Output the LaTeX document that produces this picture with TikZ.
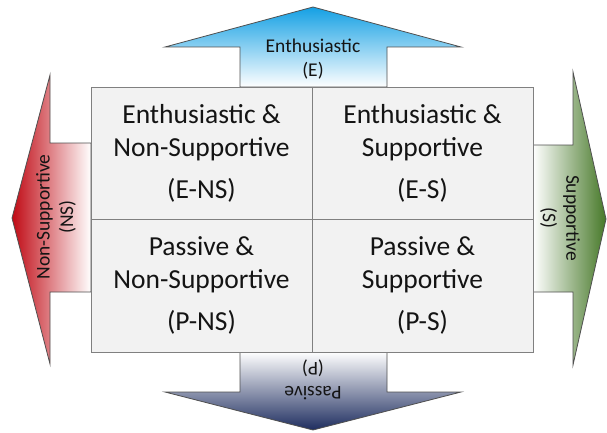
\documentclass[tikz,border=0pt]{standalone}
\usepackage{fontspec}
\setmainfont{Carlito}
\usetikzlibrary{positioning}

\definecolor{cellGray}{RGB}{242,242,242}
\definecolor{edgeGray}{RGB}{128,128,128}
\definecolor{outlineGray}{RGB}{80,80,80}
\definecolor{textDark}{RGB}{20,20,20}
\definecolor{arrowBlue}{RGB}{20,160,228}
\definecolor{arrowRed}{RGB}{192,10,20}
\definecolor{arrowGreen}{RGB}{70,120,40}
\definecolor{arrowNavy}{RGB}{30,45,95}

\tikzset{
    cell/.style = {draw=edgeGray, fill=cellGray, line width=0.9pt,
        minimum width=221pt, minimum height=132.5pt, inner sep=0pt, outer sep=0pt,
        align=center, text=textDark, font=\fontsize{27.5}{33}\selectfont},
    axisArrow/.style = {draw=outlineGray, line width=0.8pt},
    axisLabel/.style = {align=center, text=textDark, inner sep=0pt,
        font=\fontsize{19.5}{23.5}\selectfont},
}

\begin{document}
\begin{tikzpicture}[x=1pt, y=-1pt]
    \useasboundingbox (0,0) rectangle (607,433);

    % Enthusiastic (top)
    \shade [axisArrow, top color=arrowBlue, bottom color=white]
        (240,87) -- (240,47) -- (165,47) -- (313,7) -- (461,47) -- (387,47) -- (387,87) -- cycle;
    % Passive (bottom)
    \shade [axisArrow, bottom color=arrowNavy, top color=white]
        (240,352) -- (240,392) -- (165,392) -- (313,430) -- (461,392) -- (387,392) -- (387,352) -- cycle;
    % Non-Supportive (left)
    \shade [axisArrow, left color=arrowRed, right color=white]
        (91,143) -- (50,143) -- (50,75) -- (12,218) -- (50,364) -- (50,292) -- (91,292) -- cycle;
    % Supportive (right)
    \shade [axisArrow, right color=arrowGreen, left color=white]
        (533,145) -- (573,145) -- (573,72) -- (606,219) -- (573,365) -- (573,292) -- (533,292) -- cycle;

    % Quadrants
    \node [cell] (ens) at (201.5,153.25) {Enthusiastic \&\\Non-Supportive\\[9pt](E-NS)};
    \node [cell, right=0pt of ens] (es) {Enthusiastic \&\\Supportive\\[9pt](E-S)};
    \node [cell, below=0pt of ens] (pns) {Passive \&\\Non-Supportive\\[9pt](P-NS)};
    \node [cell, below=0pt of es] (ps) {Passive \&\\Supportive\\[9pt](P-S)};

    % Axis labels
    \node [axisLabel] (lblE) at (313,59) {Enthusiastic\\(E)};
    \node [axisLabel, rotate=180] (lblP) at (313,380) {Passive\\(P)};
    \node [axisLabel, rotate=90] (lblNS) at (56,217) {Non-Supportive\\(NS)};
    \node [axisLabel, rotate=-90] (lblS) at (560,218) {Supportive\\(S)};
\end{tikzpicture}
\end{document}
